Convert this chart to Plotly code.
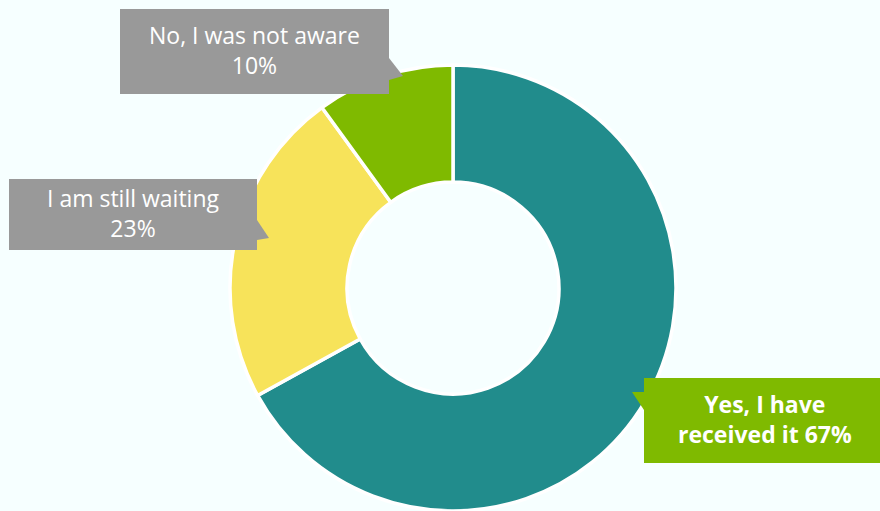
import plotly.graph_objects as go

labels = ["Yes, I have received it", "I am still waiting", "No, I was not aware"]
values = [67, 23, 10]
colors = ["#218C8C", "#F7E35A", "#7FBA00"]
callout_text = ["<b>Yes, I have<br>received it 67%</b>", "I am still waiting<br>23%", "No, I was not aware<br>10%"]

W, H = 880, 511
def px(x): return x / W
def py(y): return 1 - y / H

fig = go.Figure()
fig.add_trace(go.Pie(
    labels=labels, values=values, sort=False, direction="clockwise", rotation=0,
    hole=0.475, marker=dict(colors=colors, line=dict(color="white", width=3.5)),
    textinfo="none", hoverinfo="label+percent", showlegend=False,
    domain=dict(x=[px(453 - 223), px(453 + 223)], y=[0, 446 / H]),
))

# callout boxes: (x0, y0, x1, y1, fill, pointer triangle)
boxes = [
    (644, 378, 880, 463, "#7FBA00", [(644, 392), (632, 392), (644, 410)]),
    (9, 179, 257, 250, "#999999", [(257, 220), (269, 238), (257, 240)]),
    (120, 9, 389, 94, "#999999", [(389, 58), (403, 76), (389, 80)]),
]
shapes = []
for (x0, y0, x1, y1, c, tri) in boxes:
    shapes.append(dict(type="rect", xref="paper", yref="paper", x0=px(x0), x1=px(x1),
                       y0=py(y1), y1=py(y0), fillcolor=c, line=dict(width=0), layer="above"))
    path = "M " + " L ".join(f"{px(a):.5f},{py(b):.5f}" for a, b in tri) + " Z"
    shapes.append(dict(type="path", xref="paper", yref="paper", path=path, fillcolor=c,
                       line=dict(width=0), layer="above"))

annotations = []
centers = [(765, 419), (133, 213), (254, 50)]
for t, (cx, cy) in zip(callout_text, centers):
    annotations.append(dict(text=t, x=px(cx), y=py(cy), xref="paper", yref="paper",
                            xanchor="center", yanchor="middle", showarrow=False,
                            font=dict(family="Open Sans", size=23, color="white"), align="center"))

fig.update_layout(
    width=W, height=H, margin=dict(l=0, r=0, t=0, b=0),
    paper_bgcolor="#F6FFFF", plot_bgcolor="#F6FFFF",
    shapes=shapes, annotations=annotations,
)
fig.write_html("out.html")
